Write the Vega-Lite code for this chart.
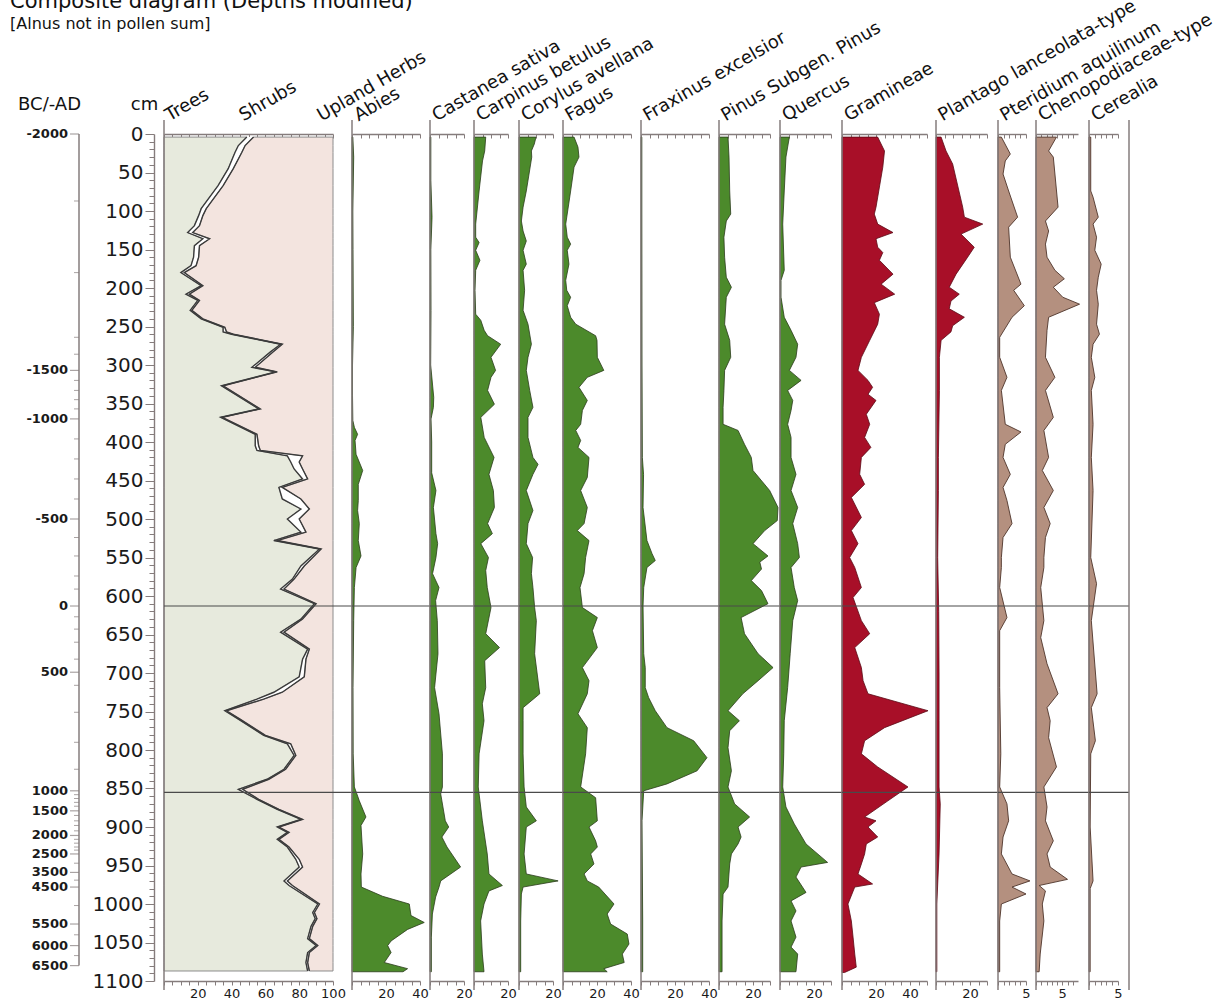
{
"$schema":"https://vega.github.io/schema/vega-lite/v6.json",
"padding":{"left":10,"top":-9,"right":5,"bottom":0},
"background":"white",
"title":{"text":"Composite diagram (Depths modified)","subtitle":"[Alnus not in pollen sum]","angle":0,"anchor":"start","align":"left","dx":-8,"offset":-36,"frame":"bounds","fontSize":21,"subtitleFontSize":16,"subtitleFont":"DejaVu Sans","subtitleColor":"#111","subtitlePadding":4},
"config":{
"view":{"stroke":null},
"font":"DejaVu Sans",
"title":{"font":"DejaVu Sans","fontSize":18,"fontWeight":"normal","color":"#111","anchor":"start","align":"left","baseline":"alphabetic","frame":"group"},
"axis":{"domainColor":"#857c7c","domainWidth":1.4,"tickColor":"#857c7c","tickWidth":1,"tickSize":4,"labelFont":"DejaVu Sans","labelFontSize":13,"labelColor":"#1a1a1a","labelPadding":2,"labelFlush":false,"labelOverlap":false,"grid":false,"titleFont":"DejaVu Sans","titleFontSize":18,"titleFontWeight":"normal","titleColor":"#111"}
},
"datasets":{
"zones":[{"depth":613},{"depth":855}],
"ages":[{"depth":0,"age":"-2000"},{"depth":307,"age":"-1500"},{"depth":370,"age":"-1000"},{"depth":500,"age":"-500"},{"depth":613,"age":"0"},{"depth":699,"age":"500"},{"depth":853,"age":"1000"},{"depth":879,"age":"1500"},{"depth":911,"age":"2000"},{"depth":935,"age":"2500"},{"depth":959,"age":"3500"},{"depth":978,"age":"4500"},{"depth":1026,"age":"5500"},{"depth":1054,"age":"6000"},{"depth":1080,"age":"6500"},
{"depth":87,"age":null},{"depth":180,"age":null},{"depth":264,"age":null},{"depth":286,"age":null},{"depth":320,"age":null},{"depth":333,"age":null},{"depth":345,"age":null},{"depth":357,"age":null},{"depth":396,"age":null},{"depth":422,"age":null},{"depth":448,"age":null},{"depth":474,"age":null},{"depth":524,"age":null},{"depth":548,"age":null},{"depth":574,"age":null},{"depth":591,"age":null},{"depth":627,"age":null},{"depth":643,"age":null},{"depth":660,"age":null},{"depth":682,"age":null},{"depth":716,"age":null},{"depth":751,"age":null},{"depth":790,"age":null},{"depth":825,"age":null},{"depth":858,"age":null},{"depth":863,"age":null},{"depth":868,"age":null},{"depth":873,"age":null},{"depth":885,"age":null},{"depth":892,"age":null},{"depth":898,"age":null},{"depth":905,"age":null},{"depth":916,"age":null},{"depth":921,"age":null},{"depth":926,"age":null},{"depth":930,"age":null},{"depth":947,"age":null},{"depth":969,"age":null},{"depth":1002,"age":null},{"depth":1040,"age":null},{"depth":1067,"age":null}],
"summary":[{"depth":4,"trees":49,"treesShrubs":53},{"depth":15,"trees":44,"treesShrubs":48},{"depth":24,"trees":42,"treesShrubs":46},{"depth":45,"trees":38,"treesShrubs":41},{"depth":67,"trees":32,"treesShrubs":35},{"depth":97,"trees":22,"treesShrubs":25},{"depth":106,"trees":20.5,"treesShrubs":23},{"depth":119,"trees":18,"treesShrubs":21},{"depth":128,"trees":14,"treesShrubs":17},{"depth":136,"trees":23,"treesShrubs":27},{"depth":145,"trees":18,"treesShrubs":21},{"depth":160,"trees":17.5,"treesShrubs":20.5},{"depth":171,"trees":16,"treesShrubs":19},{"depth":180,"trees":10,"treesShrubs":12},{"depth":197,"trees":22,"treesShrubs":23},{"depth":208,"trees":13,"treesShrubs":15},{"depth":216,"trees":20,"treesShrubs":21},{"depth":229,"trees":15.5,"treesShrubs":16.5},{"depth":240,"trees":22,"treesShrubs":23},{"depth":251,"trees":35,"treesShrubs":36},{"depth":257,"trees":35,"treesShrubs":37},{"depth":260,"trees":40,"treesShrubs":41},{"depth":273,"trees":69,"treesShrubs":70},{"depth":283,"trees":63,"treesShrubs":64.5},{"depth":303,"trees":52,"treesShrubs":54},{"depth":309,"trees":66,"treesShrubs":67},{"depth":327,"trees":34,"treesShrubs":35},{"depth":357,"trees":56,"treesShrubs":57},{"depth":368,"trees":33.5,"treesShrubs":34.5},{"depth":390,"trees":54,"treesShrubs":55},{"depth":405,"trees":54,"treesShrubs":56},{"depth":411,"trees":55,"treesShrubs":57},{"depth":418,"trees":73,"treesShrubs":82},{"depth":426,"trees":75,"treesShrubs":80},{"depth":435,"trees":77,"treesShrubs":82},{"depth":448,"trees":82,"treesShrubs":85},{"depth":459,"trees":68,"treesShrubs":70},{"depth":474,"trees":70,"treesShrubs":81},{"depth":487,"trees":81,"treesShrubs":86},{"depth":500,"trees":73,"treesShrubs":80},{"depth":517,"trees":81,"treesShrubs":84},{"depth":528,"trees":65,"treesShrubs":67},{"depth":539,"trees":92,"treesShrubs":93},{"depth":561,"trees":81,"treesShrubs":83},{"depth":578,"trees":76,"treesShrubs":77},{"depth":591,"trees":69,"treesShrubs":71},{"depth":610,"trees":89,"treesShrubs":90},{"depth":630,"trees":81,"treesShrubs":82},{"depth":647,"trees":69,"treesShrubs":71},{"depth":669,"trees":85,"treesShrubs":86},{"depth":682,"trees":82,"treesShrubs":84},{"depth":705,"trees":80,"treesShrubs":83},{"depth":725,"trees":65,"treesShrubs":70},{"depth":734,"trees":55,"treesShrubs":59},{"depth":749,"trees":36,"treesShrubs":37},{"depth":760,"trees":44,"treesShrubs":45},{"depth":781,"trees":59,"treesShrubs":60},{"depth":792,"trees":73,"treesShrubs":75},{"depth":807,"trees":77,"treesShrubs":78},{"depth":825,"trees":71,"treesShrubs":72},{"depth":838,"trees":61,"treesShrubs":62},{"depth":851,"trees":44,"treesShrubs":46.5},{"depth":864,"trees":55,"treesShrubs":56},{"depth":877,"trees":67,"treesShrubs":68},{"depth":890,"trees":81,"treesShrubs":82},{"depth":900,"trees":67,"treesShrubs":68},{"depth":907,"trees":73,"treesShrubs":74},{"depth":916,"trees":67,"treesShrubs":68},{"depth":926,"trees":73,"treesShrubs":74},{"depth":942,"trees":78,"treesShrubs":80},{"depth":952,"trees":80,"treesShrubs":82},{"depth":970,"trees":71,"treesShrubs":73},{"depth":976,"trees":74,"treesShrubs":76},{"depth":1000,"trees":91,"treesShrubs":92},{"depth":1011,"trees":88,"treesShrubs":89},{"depth":1019,"trees":89.5,"treesShrubs":90.5},{"depth":1029,"trees":87,"treesShrubs":88},{"depth":1045,"trees":85,"treesShrubs":86},{"depth":1054,"trees":90,"treesShrubs":91},{"depth":1063,"trees":85,"treesShrubs":86},{"depth":1076,"trees":84,"treesShrubs":85},{"depth":1087,"trees":85,"treesShrubs":86}],
"Abies":[{"depth":4,"pct":0.5},{"depth":30,"pct":1},{"depth":100,"pct":0.5},{"depth":150,"pct":0.6},{"depth":250,"pct":0.8},{"depth":300,"pct":0.3},{"depth":340,"pct":0.3},{"depth":372,"pct":0.5},{"depth":381,"pct":1.4},{"depth":390,"pct":3.3},{"depth":398,"pct":1.8},{"depth":416,"pct":2.4},{"depth":437,"pct":6.3},{"depth":455,"pct":3.7},{"depth":476,"pct":3.7},{"depth":489,"pct":3.3},{"depth":506,"pct":4.3},{"depth":528,"pct":3.7},{"depth":548,"pct":5.3},{"depth":563,"pct":2.4},{"depth":589,"pct":1.4},{"depth":632,"pct":1},{"depth":719,"pct":0.6},{"depth":805,"pct":0.7},{"depth":848,"pct":1.4},{"depth":866,"pct":4.3},{"depth":887,"pct":8.2},{"depth":898,"pct":5.3},{"depth":913,"pct":5.7},{"depth":935,"pct":6.3},{"depth":961,"pct":5.3},{"depth":978,"pct":5.5},{"depth":990,"pct":18},{"depth":1000,"pct":33.7},{"depth":1015,"pct":34.7},{"depth":1024,"pct":42.5},{"depth":1033,"pct":32.7},{"depth":1048,"pct":23},{"depth":1054,"pct":21},{"depth":1063,"pct":23},{"depth":1076,"pct":19},{"depth":1084,"pct":32.7},{"depth":1088,"pct":30}],
"Castanea":[{"depth":4,"pct":0.5},{"depth":60,"pct":0.5},{"depth":108,"pct":1.2},{"depth":150,"pct":0.5},{"depth":229,"pct":0.6},{"depth":300,"pct":0.4},{"depth":342,"pct":2.2},{"depth":355,"pct":2},{"depth":370,"pct":0.6},{"depth":400,"pct":1},{"depth":440,"pct":1},{"depth":463,"pct":3.5},{"depth":485,"pct":2},{"depth":519,"pct":3.5},{"depth":532,"pct":4.5},{"depth":550,"pct":3.5},{"depth":571,"pct":1.5},{"depth":589,"pct":5.3},{"depth":606,"pct":3.3},{"depth":632,"pct":4.3},{"depth":675,"pct":4.7},{"depth":719,"pct":2.7},{"depth":753,"pct":5.3},{"depth":805,"pct":7.3},{"depth":848,"pct":7.3},{"depth":857,"pct":6.3},{"depth":892,"pct":9},{"depth":900,"pct":11},{"depth":913,"pct":7},{"depth":926,"pct":10},{"depth":952,"pct":18},{"depth":970,"pct":6.3},{"depth":978,"pct":5.3},{"depth":991,"pct":3.3},{"depth":1013,"pct":1.4},{"depth":1043,"pct":0.8},{"depth":1088,"pct":0.8}],
"Carpinus":[{"depth":4,"pct":6.9},{"depth":22,"pct":6.3},{"depth":35,"pct":5},{"depth":74,"pct":3},{"depth":117,"pct":1},{"depth":134,"pct":1},{"depth":141,"pct":3},{"depth":151,"pct":1},{"depth":164,"pct":3.5},{"depth":177,"pct":1},{"depth":203,"pct":0.6},{"depth":234,"pct":1},{"depth":242,"pct":4},{"depth":255,"pct":6},{"depth":262,"pct":8},{"depth":273,"pct":15.7},{"depth":290,"pct":10},{"depth":307,"pct":12.7},{"depth":316,"pct":10},{"depth":333,"pct":8},{"depth":351,"pct":12},{"depth":368,"pct":4},{"depth":394,"pct":6},{"depth":420,"pct":11.8},{"depth":442,"pct":8.8},{"depth":463,"pct":11.4},{"depth":485,"pct":12},{"depth":506,"pct":8},{"depth":519,"pct":10.8},{"depth":532,"pct":4},{"depth":550,"pct":8.5},{"depth":567,"pct":6.9},{"depth":589,"pct":7.8},{"depth":615,"pct":10},{"depth":649,"pct":6.9},{"depth":667,"pct":15},{"depth":684,"pct":6.3},{"depth":719,"pct":6.9},{"depth":740,"pct":4.9},{"depth":762,"pct":5.9},{"depth":805,"pct":3},{"depth":848,"pct":2.5},{"depth":892,"pct":4.9},{"depth":935,"pct":7.8},{"depth":961,"pct":8.8},{"depth":976,"pct":16.7},{"depth":983,"pct":8.8},{"depth":1000,"pct":5.9},{"depth":1022,"pct":3.9},{"depth":1065,"pct":4.9},{"depth":1088,"pct":5.9}],
"Corylus":[{"depth":4,"pct":10},{"depth":13,"pct":9},{"depth":22,"pct":7.3},{"depth":30,"pct":7.5},{"depth":74,"pct":4.3},{"depth":95,"pct":2.4},{"depth":113,"pct":1.4},{"depth":126,"pct":2.4},{"depth":139,"pct":4.3},{"depth":151,"pct":2.4},{"depth":169,"pct":4.3},{"depth":177,"pct":2.4},{"depth":203,"pct":3.3},{"depth":229,"pct":2.4},{"depth":247,"pct":5.3},{"depth":273,"pct":7.3},{"depth":290,"pct":5.3},{"depth":307,"pct":4.3},{"depth":333,"pct":6.3},{"depth":355,"pct":8.2},{"depth":368,"pct":5.3},{"depth":394,"pct":5.3},{"depth":420,"pct":8.2},{"depth":429,"pct":11.2},{"depth":442,"pct":8.2},{"depth":463,"pct":4.3},{"depth":489,"pct":8.2},{"depth":506,"pct":5.3},{"depth":532,"pct":4.3},{"depth":550,"pct":8},{"depth":571,"pct":7.3},{"depth":589,"pct":8.2},{"depth":615,"pct":9.2},{"depth":632,"pct":10.2},{"depth":675,"pct":9.2},{"depth":727,"pct":12.2},{"depth":745,"pct":2.4},{"depth":762,"pct":2.4},{"depth":805,"pct":2.4},{"depth":848,"pct":3},{"depth":874,"pct":4.3},{"depth":892,"pct":10.2},{"depth":900,"pct":4.3},{"depth":935,"pct":3},{"depth":961,"pct":4.3},{"depth":970,"pct":23},{"depth":978,"pct":2.4},{"depth":987,"pct":1.4},{"depth":1022,"pct":1},{"depth":1088,"pct":1}],
"Fagus":[{"depth":4,"pct":6.5},{"depth":17,"pct":8.8},{"depth":30,"pct":9.4},{"depth":43,"pct":6.5},{"depth":74,"pct":4.5},{"depth":117,"pct":1.6},{"depth":134,"pct":2.5},{"depth":143,"pct":4.5},{"depth":151,"pct":2.5},{"depth":169,"pct":3.5},{"depth":190,"pct":1.6},{"depth":203,"pct":2.2},{"depth":212,"pct":4.5},{"depth":223,"pct":2.5},{"depth":238,"pct":4.5},{"depth":247,"pct":7.5},{"depth":262,"pct":19.2},{"depth":268,"pct":20},{"depth":290,"pct":20.2},{"depth":307,"pct":24},{"depth":316,"pct":14.3},{"depth":329,"pct":9.4},{"depth":346,"pct":14.3},{"depth":359,"pct":11.4},{"depth":377,"pct":10.4},{"depth":385,"pct":7.5},{"depth":398,"pct":10.4},{"depth":407,"pct":8.8},{"depth":420,"pct":15.3},{"depth":446,"pct":14.3},{"depth":463,"pct":10.4},{"depth":485,"pct":14.3},{"depth":506,"pct":12.4},{"depth":515,"pct":8.4},{"depth":528,"pct":15.3},{"depth":550,"pct":13.3},{"depth":571,"pct":12.4},{"depth":589,"pct":10},{"depth":615,"pct":11.4},{"depth":628,"pct":20.2},{"depth":645,"pct":17.3},{"depth":667,"pct":20.2},{"depth":693,"pct":11.4},{"depth":710,"pct":15.3},{"depth":727,"pct":14.3},{"depth":753,"pct":8.8},{"depth":771,"pct":14.3},{"depth":805,"pct":13.3},{"depth":848,"pct":10.4},{"depth":862,"pct":19.2},{"depth":892,"pct":20.2},{"depth":900,"pct":15.3},{"depth":918,"pct":19.2},{"depth":926,"pct":20.2},{"depth":935,"pct":16.3},{"depth":948,"pct":18.2},{"depth":961,"pct":12.4},{"depth":970,"pct":14.3},{"depth":978,"pct":21},{"depth":1000,"pct":30},{"depth":1013,"pct":26},{"depth":1026,"pct":28},{"depth":1039,"pct":37.8},{"depth":1052,"pct":38.8},{"depth":1065,"pct":34.9},{"depth":1076,"pct":36},{"depth":1084,"pct":24},{"depth":1088,"pct":26}],
"Fraxinus":[{"depth":4,"pct":0.5},{"depth":100,"pct":0.5},{"depth":300,"pct":0.6},{"depth":420,"pct":0.8},{"depth":442,"pct":1.5},{"depth":485,"pct":1.2},{"depth":528,"pct":3.5},{"depth":545,"pct":6.5},{"depth":554,"pct":8.4},{"depth":563,"pct":3.5},{"depth":589,"pct":1.6},{"depth":613,"pct":1.2},{"depth":675,"pct":1.6},{"depth":693,"pct":2.5},{"depth":719,"pct":2.5},{"depth":732,"pct":4.5},{"depth":749,"pct":8.4},{"depth":771,"pct":15.3},{"depth":788,"pct":31},{"depth":810,"pct":38.8},{"depth":827,"pct":33},{"depth":844,"pct":15.3},{"depth":853,"pct":1.6},{"depth":892,"pct":0.6},{"depth":1022,"pct":1},{"depth":1088,"pct":1}],
"Pinus":[{"depth":4,"pct":5.3},{"depth":30,"pct":5.9},{"depth":74,"pct":6.3},{"depth":104,"pct":6.9},{"depth":113,"pct":4.3},{"depth":134,"pct":2.9},{"depth":160,"pct":3.3},{"depth":186,"pct":4.3},{"depth":199,"pct":7.3},{"depth":212,"pct":4.3},{"depth":247,"pct":3.3},{"depth":268,"pct":6.3},{"depth":290,"pct":6.9},{"depth":307,"pct":3.3},{"depth":333,"pct":2.9},{"depth":355,"pct":2.4},{"depth":377,"pct":2.4},{"depth":385,"pct":11.2},{"depth":403,"pct":15},{"depth":420,"pct":19},{"depth":437,"pct":20},{"depth":463,"pct":29.8},{"depth":485,"pct":34.7},{"depth":502,"pct":34.3},{"depth":515,"pct":26.9},{"depth":532,"pct":20},{"depth":548,"pct":28.8},{"depth":556,"pct":24},{"depth":565,"pct":25},{"depth":580,"pct":19},{"depth":593,"pct":25},{"depth":610,"pct":28.8},{"depth":628,"pct":13},{"depth":649,"pct":15},{"depth":675,"pct":23},{"depth":693,"pct":31.8},{"depth":710,"pct":23},{"depth":727,"pct":14},{"depth":749,"pct":5.3},{"depth":762,"pct":12},{"depth":775,"pct":6.3},{"depth":797,"pct":5.3},{"depth":827,"pct":7.3},{"depth":848,"pct":5.3},{"depth":870,"pct":9.2},{"depth":887,"pct":18},{"depth":900,"pct":11.2},{"depth":913,"pct":13},{"depth":922,"pct":11.2},{"depth":935,"pct":7.3},{"depth":948,"pct":6.3},{"depth":978,"pct":5.3},{"depth":987,"pct":2.4},{"depth":1022,"pct":1.8},{"depth":1088,"pct":1.8}],
"Quercus":[{"depth":4,"pct":5.5},{"depth":30,"pct":3.5},{"depth":74,"pct":2.5},{"depth":117,"pct":1.6},{"depth":177,"pct":2.5},{"depth":190,"pct":0.6},{"depth":212,"pct":0.6},{"depth":238,"pct":2.5},{"depth":255,"pct":6.5},{"depth":273,"pct":10.4},{"depth":290,"pct":9.4},{"depth":307,"pct":5.5},{"depth":320,"pct":12.4},{"depth":333,"pct":4.5},{"depth":346,"pct":7.5},{"depth":359,"pct":6.5},{"depth":377,"pct":4.5},{"depth":394,"pct":6.5},{"depth":420,"pct":6.5},{"depth":442,"pct":9.4},{"depth":463,"pct":6.5},{"depth":485,"pct":10.4},{"depth":506,"pct":7.5},{"depth":532,"pct":10.4},{"depth":550,"pct":11.4},{"depth":563,"pct":6.5},{"depth":589,"pct":8.4},{"depth":606,"pct":10.4},{"depth":632,"pct":7.5},{"depth":675,"pct":6},{"depth":719,"pct":4.5},{"depth":762,"pct":2.5},{"depth":805,"pct":2.2},{"depth":848,"pct":1.6},{"depth":874,"pct":3.5},{"depth":896,"pct":8.4},{"depth":922,"pct":15.3},{"depth":946,"pct":28},{"depth":952,"pct":12.4},{"depth":965,"pct":9.4},{"depth":985,"pct":15.3},{"depth":996,"pct":6.5},{"depth":1009,"pct":9.4},{"depth":1022,"pct":6.5},{"depth":1043,"pct":9.4},{"depth":1056,"pct":6.5},{"depth":1065,"pct":10.4},{"depth":1088,"pct":9.4}],
"Gramineae":[{"depth":4,"pct":21},{"depth":22,"pct":25},{"depth":43,"pct":24},{"depth":95,"pct":20},{"depth":104,"pct":19},{"depth":117,"pct":21},{"depth":128,"pct":30},{"depth":136,"pct":20},{"depth":147,"pct":21},{"depth":154,"pct":24},{"depth":164,"pct":22},{"depth":182,"pct":30},{"depth":195,"pct":23},{"depth":208,"pct":31},{"depth":219,"pct":19},{"depth":234,"pct":22},{"depth":247,"pct":21},{"depth":268,"pct":16.3},{"depth":290,"pct":11.4},{"depth":307,"pct":9.4},{"depth":320,"pct":15.3},{"depth":329,"pct":18},{"depth":338,"pct":15.3},{"depth":346,"pct":20},{"depth":364,"pct":14.3},{"depth":377,"pct":16.3},{"depth":394,"pct":13.3},{"depth":407,"pct":17},{"depth":420,"pct":11.4},{"depth":442,"pct":10.4},{"depth":455,"pct":13.3},{"depth":472,"pct":5.5},{"depth":498,"pct":11.4},{"depth":515,"pct":5.5},{"depth":532,"pct":9.4},{"depth":550,"pct":4.5},{"depth":563,"pct":7.5},{"depth":589,"pct":11.4},{"depth":602,"pct":6.5},{"depth":632,"pct":11.4},{"depth":649,"pct":16.3},{"depth":667,"pct":7.5},{"depth":693,"pct":11.4},{"depth":710,"pct":12.4},{"depth":727,"pct":15.3},{"depth":749,"pct":50.6},{"depth":771,"pct":25},{"depth":788,"pct":13.3},{"depth":805,"pct":11.4},{"depth":822,"pct":21},{"depth":848,"pct":38.8},{"depth":866,"pct":27},{"depth":887,"pct":13.3},{"depth":892,"pct":20},{"depth":900,"pct":15.3},{"depth":913,"pct":21},{"depth":922,"pct":14.3},{"depth":935,"pct":13.3},{"depth":948,"pct":11.4},{"depth":961,"pct":9.4},{"depth":974,"pct":18},{"depth":978,"pct":7.5},{"depth":1000,"pct":3.5},{"depth":1022,"pct":5.5},{"depth":1043,"pct":6.5},{"depth":1065,"pct":7.5},{"depth":1082,"pct":8.4},{"depth":1089,"pct":1.5}],
"Plantago":[{"depth":4,"pct":3},{"depth":22,"pct":5.9},{"depth":39,"pct":9.8},{"depth":95,"pct":15.7},{"depth":108,"pct":16.7},{"depth":117,"pct":27.5},{"depth":130,"pct":14.7},{"depth":147,"pct":22.5},{"depth":160,"pct":18.6},{"depth":182,"pct":11.8},{"depth":199,"pct":7.8},{"depth":208,"pct":13.7},{"depth":217,"pct":8.8},{"depth":227,"pct":7.8},{"depth":238,"pct":16.7},{"depth":249,"pct":9.8},{"depth":257,"pct":8.8},{"depth":268,"pct":3},{"depth":290,"pct":2},{"depth":333,"pct":2},{"depth":420,"pct":1.4},{"depth":463,"pct":1.4},{"depth":550,"pct":1},{"depth":620,"pct":1.6},{"depth":700,"pct":1.8},{"depth":762,"pct":1.8},{"depth":848,"pct":1.8},{"depth":870,"pct":2.5},{"depth":935,"pct":1.8},{"depth":974,"pct":1},{"depth":1000,"pct":0.5},{"depth":1088,"pct":0.5}],
"Pteridium":[{"depth":4,"pct":0.6},{"depth":26,"pct":2.2},{"depth":35,"pct":1.3},{"depth":52,"pct":0.9},{"depth":74,"pct":1.9},{"depth":108,"pct":3.5},{"depth":121,"pct":1.9},{"depth":160,"pct":2.2},{"depth":195,"pct":4.1},{"depth":203,"pct":2.8},{"depth":223,"pct":4.7},{"depth":238,"pct":2.5},{"depth":264,"pct":0.3},{"depth":290,"pct":0.3},{"depth":316,"pct":1.6},{"depth":333,"pct":0.6},{"depth":377,"pct":1.3},{"depth":387,"pct":4.1},{"depth":403,"pct":1.3},{"depth":420,"pct":0.9},{"depth":442,"pct":2.2},{"depth":459,"pct":0.9},{"depth":476,"pct":1.6},{"depth":506,"pct":2.5},{"depth":524,"pct":0.9},{"depth":550,"pct":0.6},{"depth":563,"pct":0.6},{"depth":589,"pct":0.3},{"depth":628,"pct":1.6},{"depth":645,"pct":0.3},{"depth":719,"pct":0.3},{"depth":805,"pct":0.5},{"depth":848,"pct":0.3},{"depth":870,"pct":1.6},{"depth":892,"pct":1.9},{"depth":913,"pct":0.9},{"depth":935,"pct":0.6},{"depth":961,"pct":2.5},{"depth":970,"pct":5.7},{"depth":978,"pct":2.5},{"depth":987,"pct":5},{"depth":1000,"pct":0.6},{"depth":1022,"pct":0.3},{"depth":1088,"pct":0.3}],
"Chenopodiaceae":[{"depth":4,"pct":3.9},{"depth":22,"pct":2.4},{"depth":30,"pct":3.3},{"depth":95,"pct":4.2},{"depth":113,"pct":1.8},{"depth":126,"pct":2.4},{"depth":143,"pct":1.8},{"depth":160,"pct":2.1},{"depth":177,"pct":3.6},{"depth":188,"pct":5.4},{"depth":199,"pct":3.3},{"depth":212,"pct":5.1},{"depth":221,"pct":8.3},{"depth":238,"pct":2.4},{"depth":255,"pct":2.1},{"depth":290,"pct":1.8},{"depth":316,"pct":3.6},{"depth":333,"pct":1.8},{"depth":368,"pct":3.3},{"depth":385,"pct":1.5},{"depth":420,"pct":2.4},{"depth":437,"pct":1.2},{"depth":463,"pct":3.3},{"depth":485,"pct":1.5},{"depth":506,"pct":2.7},{"depth":524,"pct":1.8},{"depth":550,"pct":1.5},{"depth":563,"pct":1.5},{"depth":589,"pct":0.9},{"depth":632,"pct":1.5},{"depth":654,"pct":0.9},{"depth":688,"pct":2.1},{"depth":727,"pct":4.2},{"depth":745,"pct":2.1},{"depth":762,"pct":2.7},{"depth":784,"pct":2.4},{"depth":822,"pct":3.9},{"depth":848,"pct":1.5},{"depth":874,"pct":2.1},{"depth":892,"pct":1.8},{"depth":918,"pct":3.3},{"depth":935,"pct":2.1},{"depth":952,"pct":2.7},{"depth":968,"pct":6},{"depth":976,"pct":0.6},{"depth":983,"pct":1.8},{"depth":1000,"pct":1.2},{"depth":1022,"pct":1.5},{"depth":1065,"pct":0.8},{"depth":1088,"pct":0.6}],
"Cerealia":[{"depth":4,"pct":0.3},{"depth":74,"pct":0.3},{"depth":82,"pct":0.7},{"depth":108,"pct":1.6},{"depth":117,"pct":0.7},{"depth":134,"pct":1.3},{"depth":151,"pct":1},{"depth":169,"pct":2.1},{"depth":186,"pct":1.6},{"depth":203,"pct":1.3},{"depth":221,"pct":1.6},{"depth":247,"pct":1.3},{"depth":260,"pct":1.8},{"depth":273,"pct":0.7},{"depth":290,"pct":0.4},{"depth":316,"pct":1},{"depth":333,"pct":0.4},{"depth":377,"pct":0.7},{"depth":420,"pct":0.4},{"depth":463,"pct":0.7},{"depth":550,"pct":0.3},{"depth":584,"pct":1.3},{"depth":632,"pct":0.4},{"depth":727,"pct":1.4},{"depth":745,"pct":0.4},{"depth":788,"pct":1.1},{"depth":805,"pct":0.3},{"depth":900,"pct":0.2},{"depth":970,"pct":0.7},{"depth":980,"pct":0.2},{"depth":1088,"pct":0.2}]
},
"spacing":0,
"bounds":"flush",
"hconcat":[
{"width":85,"height":870,"title":{"text":"BC/-AD","align":"right","dx":2,"offset":6,"fontSize":18},"data":{"name":"ages"},
"layer":[
{"mark":{"type":"rule","color":"#857c7c","strokeWidth":1.5},"encoding":{"x":{"datum":0,"type":"quantitative","scale":{"domain":[0,1]},"axis":null},"y":{"aggregate":"min","field":"depth","type":"quantitative","scale":{"domain":[0,1100],"range":[14,861]},"axis":null},"y2":{"aggregate":"max","field":"depth"}}},
{"transform":[{"filter":"isValid(datum.age)"}],"mark":{"type":"tick","orient":"horizontal","size":9,"thickness":1.2,"xOffset":-4.5,"color":"#857c7c"},"encoding":{"x":{"datum":0,"type":"quantitative","axis":null},"y":{"field":"depth","type":"quantitative","axis":null}}},
{"transform":[{"filter":"!isValid(datum.age)"}],"mark":{"type":"tick","orient":"horizontal","size":5,"thickness":1,"xOffset":-2.5,"color":"#857c7c"},"encoding":{"x":{"datum":0,"type":"quantitative","axis":null},"y":{"field":"depth","type":"quantitative","axis":null}}},
{"transform":[{"filter":"isValid(datum.age)"}],"mark":{"type":"text","align":"right","baseline":"middle","dx":-11,"fontSize":13,"fontWeight":"bold","color":"#1a1a1a"},"encoding":{"x":{"datum":0,"type":"quantitative","axis":null},"y":{"field":"depth","type":"quantitative","axis":null},"text":{"field":"age"}}}
]},
{"width":188,"height":870,"data":{"name":"summary"},
"layer":[
{"mark":{"type":"area","orient":"horizontal","fill":"#e7eadd","stroke":"#8c8c8c","strokeWidth":1},"encoding":{
"x":{"field":"trees","type":"quantitative","scale":{"domain":[0,100],"range":[0,169]},"axis":{"orient":"bottom","offset":-9,"values":[0,5,10,15,20,25,30,35,40,45,50,55,60,65,70,75,80,85,90,95,100],"labelExpr":"datum.value > 0 && datum.value % 20 === 0 ? datum.label : ''","title":"Upland Herbs","titleX":157,"titleY":-860,"titleAngle":-30,"titleAlign":"left","titleBaseline":"alphabetic"}},
"y":{"field":"depth","type":"quantitative","scale":{"domain":[0,1100],"range":[14,861]},"axis":{"orient":"left","offset":10,"values":[0,10,20,30,40,50,60,70,80,90,100,110,120,130,140,150,160,170,180,190,200,210,220,230,240,250,260,270,280,290,300,310,320,330,340,350,360,370,380,390,400,410,420,430,440,450,460,470,480,490,500,510,520,530,540,550,560,570,580,590,600,610,620,630,640,650,660,670,680,690,700,710,720,730,740,750,760,770,780,790,800,810,820,830,840,850,860,870,880,890,900,910,920,930,940,950,960,970,980,990,1000,1010,1020,1030,1040,1050,1060,1070,1080,1090,1100],"format":"d","labelExpr":"datum.value % 50 === 0 ? datum.label : ''","tickSize":{"condition":{"test":"datum.value % 50 === 0","value":9},"value":5},"labelFontSize":20,"labelPadding":2,"title":"cm","titleAngle":0,"titleX":-10,"titleY":-11,"titleAlign":"center","titleBaseline":"alphabetic"}}}},
{"mark":{"type":"area","orient":"horizontal","fill":"#ffffff"},"encoding":{"x":{"field":"trees","type":"quantitative","axis":null},"x2":{"field":"treesShrubs"},"y":{"field":"depth","type":"quantitative","axis":null}}},
{"mark":{"type":"area","orient":"horizontal","fill":"#f3e4df","stroke":"#8c8c8c","strokeWidth":1},"encoding":{"x":{"field":"treesShrubs","type":"quantitative","axis":null},"x2":{"datum":100},"y":{"field":"depth","type":"quantitative","axis":null}}},
{"mark":{"type":"line","color":"#3b3b3b","strokeWidth":1.4},"encoding":{"x":{"field":"trees","type":"quantitative","axis":null},"y":{"field":"depth","type":"quantitative","axis":null},"order":{"field":"depth"}}},
{"mark":{"type":"line","color":"#3b3b3b","strokeWidth":1.4},"encoding":{"x":{"field":"treesShrubs","type":"quantitative","axis":null},"y":{"field":"depth","type":"quantitative","axis":null},"order":{"field":"depth"}}},
{"data":{"values":[{}]},"mark":{"type":"rule","color":"#857c7c","strokeWidth":1.5},"encoding":{"x":{"datum":0,"type":"quantitative","axis":{"orient":"top","offset":-14,"values":[0,5,10,15,20,25,30,35,40,45,50,55,60,65,70,75,80,85,90,95,100],"labels":false,"tickSize":-4,"title":"Shrubs","titleX":79,"titleY":-13,"titleAngle":-30,"titleAlign":"left","titleBaseline":"alphabetic"}}}},
{"data":{"name":"zones"},"mark":{"type":"rule","color":"#4a4a4a","strokeWidth":1.1},"encoding":{"y":{"field":"depth","type":"quantitative","axis":{"orient":"right","domain":false,"ticks":false,"labels":false,"title":"Trees","titleX":-183,"titleY":1,"titleAngle":-30,"titleAlign":"left","titleBaseline":"alphabetic"}}}}
],
"resolve":{"axis":{"x":"independent","y":"independent"}}},
{"width":78,"height":870,"data":{"name":"Abies"},"layer":[
{"mark":{"type":"area","orient":"horizontal","fill":"#4c8a2b","stroke":"#2b3b1c","strokeWidth":0.8},"encoding":{"x":{"field":"pct","type":"quantitative","scale":{"domain":[0,40],"range":[0,68]},"axis":{"orient":"bottom","offset":-9,"values":[0,5,10,15,20,25,30,35,40],"labelExpr":"datum.value > 0 && datum.value % 20 === 0 ? datum.label : ''","title":null}},"y":{"field":"depth","type":"quantitative","scale":{"domain":[0,1100],"range":[14,861]},"axis":null}}},
{"data":{"values":[{}]},"mark":{"type":"rule","color":"#857c7c","strokeWidth":1.5},"encoding":{"x":{"datum":0,"type":"quantitative","axis":{"orient":"top","offset":-14,"values":[0,5,10,15,20,25,30,35,40],"labels":false,"tickSize":-4,"title":"Abies","titleX":6,"titleY":-13,"titleAngle":-30,"titleAlign":"left","titleBaseline":"alphabetic"}}}},
{"data":{"name":"zones"},"mark":{"type":"rule","color":"#4a4a4a","strokeWidth":1.1},"encoding":{"y":{"field":"depth","type":"quantitative","axis":null}}}
],"resolve":{"axis":{"x":"independent"}}},
{"width":44,"height":870,"data":{"name":"Castanea"},"layer":[
{"mark":{"type":"area","orient":"horizontal","fill":"#4c8a2b","stroke":"#2b3b1c","strokeWidth":0.8},"encoding":{"x":{"field":"pct","type":"quantitative","scale":{"domain":[0,20],"range":[0,34]},"axis":{"orient":"bottom","offset":-9,"values":[0,5,10,15,20],"labelExpr":"datum.value > 0 && datum.value % 20 === 0 ? datum.label : ''","title":null}},"y":{"field":"depth","type":"quantitative","scale":{"domain":[0,1100],"range":[14,861]},"axis":null}}},
{"data":{"values":[{}]},"mark":{"type":"rule","color":"#857c7c","strokeWidth":1.5},"encoding":{"x":{"datum":0,"type":"quantitative","axis":{"orient":"top","offset":-14,"values":[0,5,10,15,20],"labels":false,"tickSize":-4,"title":"Castanea sativa","titleX":6,"titleY":-13,"titleAngle":-30,"titleAlign":"left","titleBaseline":"alphabetic"}}}},
{"data":{"name":"zones"},"mark":{"type":"rule","color":"#4a4a4a","strokeWidth":1.1},"encoding":{"y":{"field":"depth","type":"quantitative","axis":null}}}
],"resolve":{"axis":{"x":"independent"}}},
{"width":45,"height":870,"data":{"name":"Carpinus"},"layer":[
{"mark":{"type":"area","orient":"horizontal","fill":"#4c8a2b","stroke":"#2b3b1c","strokeWidth":0.8},"encoding":{"x":{"field":"pct","type":"quantitative","scale":{"domain":[0,20],"range":[0,34]},"axis":{"orient":"bottom","offset":-9,"values":[0,5,10,15,20],"labelExpr":"datum.value > 0 && datum.value % 20 === 0 ? datum.label : ''","title":null}},"y":{"field":"depth","type":"quantitative","scale":{"domain":[0,1100],"range":[14,861]},"axis":null}}},
{"data":{"values":[{}]},"mark":{"type":"rule","color":"#857c7c","strokeWidth":1.5},"encoding":{"x":{"datum":0,"type":"quantitative","axis":{"orient":"top","offset":-14,"values":[0,5,10,15,20],"labels":false,"tickSize":-4,"title":"Carpinus betulus","titleX":6,"titleY":-13,"titleAngle":-30,"titleAlign":"left","titleBaseline":"alphabetic"}}}},
{"data":{"name":"zones"},"mark":{"type":"rule","color":"#4a4a4a","strokeWidth":1.1},"encoding":{"y":{"field":"depth","type":"quantitative","axis":null}}}
],"resolve":{"axis":{"x":"independent"}}},
{"width":44,"height":870,"data":{"name":"Corylus"},"layer":[
{"mark":{"type":"area","orient":"horizontal","fill":"#4c8a2b","stroke":"#2b3b1c","strokeWidth":0.8},"encoding":{"x":{"field":"pct","type":"quantitative","scale":{"domain":[0,20],"range":[0,34]},"axis":{"orient":"bottom","offset":-9,"values":[0,5,10,15,20],"labelExpr":"datum.value > 0 && datum.value % 20 === 0 ? datum.label : ''","title":null}},"y":{"field":"depth","type":"quantitative","scale":{"domain":[0,1100],"range":[14,861]},"axis":null}}},
{"data":{"values":[{}]},"mark":{"type":"rule","color":"#857c7c","strokeWidth":1.5},"encoding":{"x":{"datum":0,"type":"quantitative","axis":{"orient":"top","offset":-14,"values":[0,5,10,15,20],"labels":false,"tickSize":-4,"title":"Corylus avellana","titleX":6,"titleY":-13,"titleAngle":-30,"titleAlign":"left","titleBaseline":"alphabetic"}}}},
{"data":{"name":"zones"},"mark":{"type":"rule","color":"#4a4a4a","strokeWidth":1.1},"encoding":{"y":{"field":"depth","type":"quantitative","axis":null}}}
],"resolve":{"axis":{"x":"independent"}}},
{"width":78,"height":870,"data":{"name":"Fagus"},"layer":[
{"mark":{"type":"area","orient":"horizontal","fill":"#4c8a2b","stroke":"#2b3b1c","strokeWidth":0.8},"encoding":{"x":{"field":"pct","type":"quantitative","scale":{"domain":[0,40],"range":[0,68]},"axis":{"orient":"bottom","offset":-9,"values":[0,5,10,15,20,25,30,35,40],"labelExpr":"datum.value > 0 && datum.value % 20 === 0 ? datum.label : ''","title":null}},"y":{"field":"depth","type":"quantitative","scale":{"domain":[0,1100],"range":[14,861]},"axis":null}}},
{"data":{"values":[{}]},"mark":{"type":"rule","color":"#857c7c","strokeWidth":1.5},"encoding":{"x":{"datum":0,"type":"quantitative","axis":{"orient":"top","offset":-14,"values":[0,5,10,15,20,25,30,35,40],"labels":false,"tickSize":-4,"title":"Fagus","titleX":6,"titleY":-13,"titleAngle":-30,"titleAlign":"left","titleBaseline":"alphabetic"}}}},
{"data":{"name":"zones"},"mark":{"type":"rule","color":"#4a4a4a","strokeWidth":1.1},"encoding":{"y":{"field":"depth","type":"quantitative","axis":null}}}
],"resolve":{"axis":{"x":"independent"}}},
{"width":78,"height":870,"data":{"name":"Fraxinus"},"layer":[
{"mark":{"type":"area","orient":"horizontal","fill":"#4c8a2b","stroke":"#2b3b1c","strokeWidth":0.8},"encoding":{"x":{"field":"pct","type":"quantitative","scale":{"domain":[0,40],"range":[0,68]},"axis":{"orient":"bottom","offset":-9,"values":[0,5,10,15,20,25,30,35,40],"labelExpr":"datum.value > 0 && datum.value % 20 === 0 ? datum.label : ''","title":null}},"y":{"field":"depth","type":"quantitative","scale":{"domain":[0,1100],"range":[14,861]},"axis":null}}},
{"data":{"values":[{}]},"mark":{"type":"rule","color":"#857c7c","strokeWidth":1.5},"encoding":{"x":{"datum":0,"type":"quantitative","axis":{"orient":"top","offset":-14,"values":[0,5,10,15,20,25,30,35,40],"labels":false,"tickSize":-4,"title":"Fraxinus excelsior","titleX":6,"titleY":-13,"titleAngle":-30,"titleAlign":"left","titleBaseline":"alphabetic"}}}},
{"data":{"name":"zones"},"mark":{"type":"rule","color":"#4a4a4a","strokeWidth":1.1},"encoding":{"y":{"field":"depth","type":"quantitative","axis":null}}}
],"resolve":{"axis":{"x":"independent"}}},
{"width":61,"height":870,"data":{"name":"Pinus"},"layer":[
{"mark":{"type":"area","orient":"horizontal","fill":"#4c8a2b","stroke":"#2b3b1c","strokeWidth":0.8},"encoding":{"x":{"field":"pct","type":"quantitative","scale":{"domain":[0,30],"range":[0,51]},"axis":{"orient":"bottom","offset":-9,"values":[0,5,10,15,20,25,30],"labelExpr":"datum.value > 0 && datum.value % 20 === 0 ? datum.label : ''","title":null}},"y":{"field":"depth","type":"quantitative","scale":{"domain":[0,1100],"range":[14,861]},"axis":null}}},
{"data":{"values":[{}]},"mark":{"type":"rule","color":"#857c7c","strokeWidth":1.5},"encoding":{"x":{"datum":0,"type":"quantitative","axis":{"orient":"top","offset":-14,"values":[0,5,10,15,20,25,30],"labels":false,"tickSize":-4,"title":"Pinus Subgen. Pinus","titleX":6,"titleY":-13,"titleAngle":-30,"titleAlign":"left","titleBaseline":"alphabetic"}}}},
{"data":{"name":"zones"},"mark":{"type":"rule","color":"#4a4a4a","strokeWidth":1.1},"encoding":{"y":{"field":"depth","type":"quantitative","axis":null}}}
],"resolve":{"axis":{"x":"independent"}}},
{"width":62,"height":870,"data":{"name":"Quercus"},"layer":[
{"mark":{"type":"area","orient":"horizontal","fill":"#4c8a2b","stroke":"#2b3b1c","strokeWidth":0.8},"encoding":{"x":{"field":"pct","type":"quantitative","scale":{"domain":[0,30],"range":[0,51]},"axis":{"orient":"bottom","offset":-9,"values":[0,5,10,15,20,25,30],"labelExpr":"datum.value > 0 && datum.value % 20 === 0 ? datum.label : ''","title":null}},"y":{"field":"depth","type":"quantitative","scale":{"domain":[0,1100],"range":[14,861]},"axis":null}}},
{"data":{"values":[{}]},"mark":{"type":"rule","color":"#857c7c","strokeWidth":1.5},"encoding":{"x":{"datum":0,"type":"quantitative","axis":{"orient":"top","offset":-14,"values":[0,5,10,15,20,25,30],"labels":false,"tickSize":-4,"title":"Quercus","titleX":6,"titleY":-13,"titleAngle":-30,"titleAlign":"left","titleBaseline":"alphabetic"}}}},
{"data":{"name":"zones"},"mark":{"type":"rule","color":"#4a4a4a","strokeWidth":1.1},"encoding":{"y":{"field":"depth","type":"quantitative","axis":null}}}
],"resolve":{"axis":{"x":"independent"}}},
{"width":94,"height":870,"data":{"name":"Gramineae"},"layer":[
{"mark":{"type":"area","orient":"horizontal","fill":"#a80f28","stroke":"#5a0a15","strokeWidth":0.8},"encoding":{"x":{"field":"pct","type":"quantitative","scale":{"domain":[0,50],"range":[0,85]},"axis":{"orient":"bottom","offset":-9,"values":[0,5,10,15,20,25,30,35,40,45,50],"labelExpr":"datum.value > 0 && datum.value % 20 === 0 ? datum.label : ''","title":null}},"y":{"field":"depth","type":"quantitative","scale":{"domain":[0,1100],"range":[14,861]},"axis":null}}},
{"data":{"values":[{}]},"mark":{"type":"rule","color":"#857c7c","strokeWidth":1.5},"encoding":{"x":{"datum":0,"type":"quantitative","axis":{"orient":"top","offset":-14,"values":[0,5,10,15,20,25,30,35,40,45,50],"labels":false,"tickSize":-4,"title":"Gramineae","titleX":6,"titleY":-13,"titleAngle":-30,"titleAlign":"left","titleBaseline":"alphabetic"}}}},
{"data":{"name":"zones"},"mark":{"type":"rule","color":"#4a4a4a","strokeWidth":1.1},"encoding":{"y":{"field":"depth","type":"quantitative","axis":null}}}
],"resolve":{"axis":{"x":"independent"}}},
{"width":62,"height":870,"data":{"name":"Plantago"},"layer":[
{"mark":{"type":"area","orient":"horizontal","fill":"#a80f28","stroke":"#5a0a15","strokeWidth":0.8},"encoding":{"x":{"field":"pct","type":"quantitative","scale":{"domain":[0,30],"range":[0,51]},"axis":{"orient":"bottom","offset":-9,"values":[0,5,10,15,20,25,30],"labelExpr":"datum.value > 0 && datum.value % 20 === 0 ? datum.label : ''","title":null}},"y":{"field":"depth","type":"quantitative","scale":{"domain":[0,1100],"range":[14,861]},"axis":null}}},
{"data":{"values":[{}]},"mark":{"type":"rule","color":"#857c7c","strokeWidth":1.5},"encoding":{"x":{"datum":0,"type":"quantitative","axis":{"orient":"top","offset":-14,"values":[0,5,10,15,20,25,30],"labels":false,"tickSize":-4,"title":"Plantago lanceolata-type","titleX":6,"titleY":-13,"titleAngle":-30,"titleAlign":"left","titleBaseline":"alphabetic"}}}},
{"data":{"name":"zones"},"mark":{"type":"rule","color":"#4a4a4a","strokeWidth":1.1},"encoding":{"y":{"field":"depth","type":"quantitative","axis":null}}}
],"resolve":{"axis":{"x":"independent"}}},
{"width":38,"height":870,"data":{"name":"Pteridium"},"layer":[
{"mark":{"type":"area","orient":"horizontal","fill":"#b4907f","stroke":"#4e342a","strokeWidth":0.9},"encoding":{"x":{"field":"pct","type":"quantitative","scale":{"domain":[0,5],"range":[0,28]},"axis":{"orient":"bottom","offset":-9,"values":[0,1,2,3,4,5],"labelExpr":"datum.value === 5 ? datum.label : ''","title":null}},"y":{"field":"depth","type":"quantitative","scale":{"domain":[0,1100],"range":[14,861]},"axis":null}}},
{"data":{"values":[{}]},"mark":{"type":"rule","color":"#857c7c","strokeWidth":1.5},"encoding":{"x":{"datum":0,"type":"quantitative","axis":{"orient":"top","offset":-14,"values":[0,1,2,3,4,5],"labels":false,"tickSize":-4,"title":"Pteridium aquilinum","titleX":6,"titleY":-13,"titleAngle":-30,"titleAlign":"left","titleBaseline":"alphabetic"}}}},
{"data":{"name":"zones"},"mark":{"type":"rule","color":"#4a4a4a","strokeWidth":1.1},"encoding":{"y":{"field":"depth","type":"quantitative","axis":null}}}
],"resolve":{"axis":{"x":"independent"}}},
{"width":53,"height":870,"data":{"name":"Chenopodiaceae"},"layer":[
{"mark":{"type":"area","orient":"horizontal","fill":"#b4907f","stroke":"#4e342a","strokeWidth":0.9},"encoding":{"x":{"field":"pct","type":"quantitative","scale":{"domain":[0,7.5],"range":[0,42]},"axis":{"orient":"bottom","offset":-9,"values":[0,1,2,3,4,5,6,7],"labelExpr":"datum.value === 5 ? datum.label : ''","title":null}},"y":{"field":"depth","type":"quantitative","scale":{"domain":[0,1100],"range":[14,861]},"axis":null}}},
{"data":{"values":[{}]},"mark":{"type":"rule","color":"#857c7c","strokeWidth":1.5},"encoding":{"x":{"datum":0,"type":"quantitative","axis":{"orient":"top","offset":-14,"values":[0,1,2,3,4,5,6,7],"labels":false,"tickSize":-4,"title":"Chenopodiaceae-type","titleX":6,"titleY":-13,"titleAngle":-30,"titleAlign":"left","titleBaseline":"alphabetic"}}}},
{"data":{"name":"zones"},"mark":{"type":"rule","color":"#4a4a4a","strokeWidth":1.1},"encoding":{"y":{"field":"depth","type":"quantitative","axis":null}}}
],"resolve":{"axis":{"x":"independent"}}},
{"width":40,"height":870,"data":{"name":"Cerealia"},"layer":[
{"mark":{"type":"area","orient":"horizontal","fill":"#b4907f","stroke":"#4e342a","strokeWidth":0.9},"encoding":{"x":{"field":"pct","type":"quantitative","scale":{"domain":[0,5],"range":[0,29]},"axis":{"orient":"bottom","offset":-9,"values":[0,1,2,3,4,5],"labelExpr":"datum.value === 5 ? datum.label : ''","title":null}},"y":{"field":"depth","type":"quantitative","scale":{"domain":[0,1100],"range":[14,861]},"axis":null}}},
{"data":{"values":[{}]},"mark":{"type":"rule","color":"#857c7c","strokeWidth":1.5},"encoding":{"x":{"datum":0,"type":"quantitative","axis":{"orient":"top","offset":-14,"values":[0,1,2,3,4,5],"labels":false,"tickSize":-4,"title":"Cerealia","titleX":6,"titleY":-13,"titleAngle":-30,"titleAlign":"left","titleBaseline":"alphabetic"}}}},
{"data":{"name":"zones"},"mark":{"type":"rule","color":"#4a4a4a","strokeWidth":1.1},"encoding":{"y":{"field":"depth","type":"quantitative","axis":null}}}
],"resolve":{"axis":{"x":"independent"}}},
{"width":2,"height":870,"data":{"values":[{}]},"mark":{"type":"rule","color":"#857c7c","strokeWidth":1.5},"encoding":{"x":{"datum":0,"type":"quantitative","scale":{"domain":[0,1]},"axis":null}}}
]
}
